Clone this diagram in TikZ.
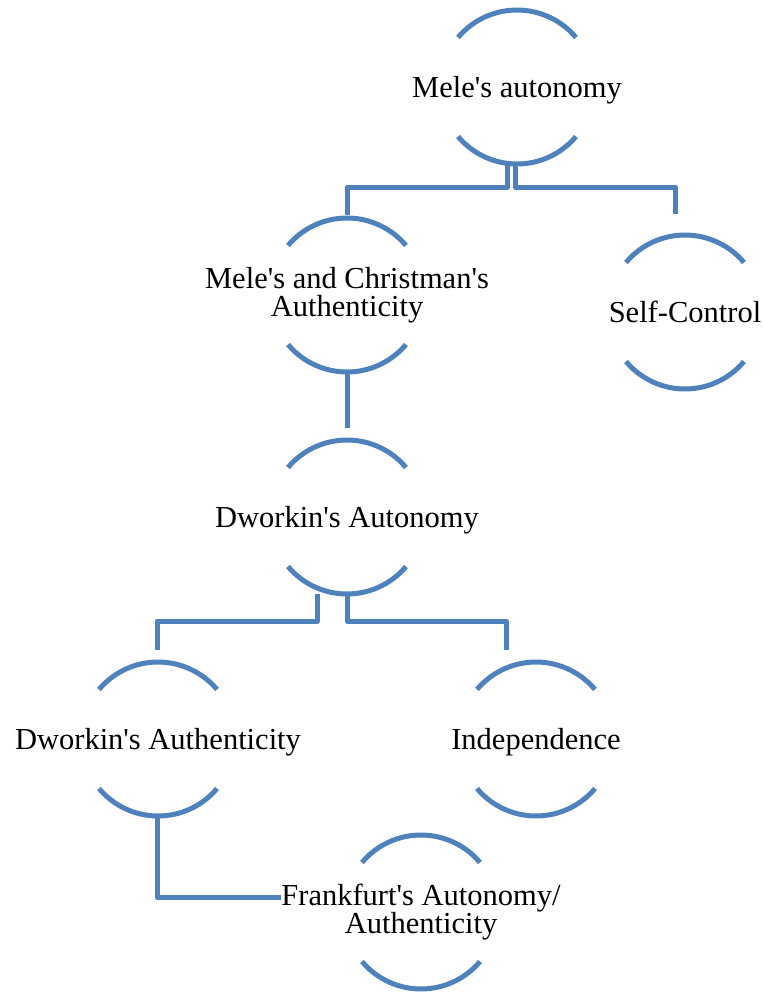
\documentclass[tikz,border=0pt]{standalone}
\usepackage{fontspec}
\setmainfont{Liberation Serif}[Ligatures=TeXOff]
\definecolor{ringblue}{RGB}{79,129,189}
\tikzset{
    ring/.style={ringblue, line width=5pt},
    link/.style={ringblue, line width=5pt, line join=round},
    concept/.style={inner sep=0pt, font=\fontsize{30.5}{28}\selectfont, text height=21pt, text depth=1pt},
    concepttwo/.style={inner sep=0pt, align=center, font=\fontsize{30.5}{28}\selectfont},
}

\begin{document}
\begin{tikzpicture}[x=1pt,y=1pt]
        \useasboundingbox (0,0) rectangle (763,-994);
        % узлы
        \node[concept] (meleAuto) at (517,-87) {Mele's autonomy};
        \node[concepttwo] (meleAuth) at (347,-295) {Mele's and Christman's\\Authenticity};
        \node[concept] (selfCtrl) at (685,-312) {Self-Control};
        \node[concept] (dworAuto) at (347,-517) {Dworkin's Autonomy};
        \node[concept] (dworAuth) at (158,-739) {Dworkin's Authenticity};
        \node[concept] (indep) at (536,-739) {Independence};
        \node[concepttwo] (frankAuto) at (421,-912) {Frankfurt's Autonomy/\\Authenticity};

        % дуги
        \draw[ring] ([shift={(40:77)}]meleAuto.center) arc[start angle=40, end angle=140, radius=77];
        \draw[ring] ([shift={(220:77)}]meleAuto.center) arc[start angle=220, end angle=320, radius=77];
        \draw[ring] ([shift={(40:77)}]meleAuth.center) arc[start angle=40, end angle=140, radius=77];
        \draw[ring] ([shift={(220:77)}]meleAuth.center) arc[start angle=220, end angle=320, radius=77];
        \draw[ring] ([shift={(40:77)}]selfCtrl.center) arc[start angle=40, end angle=140, radius=77];
        \draw[ring] ([shift={(220:77)}]selfCtrl.center) arc[start angle=220, end angle=320, radius=77];
        \draw[ring] ([shift={(40:77)}]dworAuto.center) arc[start angle=40, end angle=140, radius=77];
        \draw[ring] ([shift={(220:77)}]dworAuto.center) arc[start angle=220, end angle=320, radius=77];
        \draw[ring] ([shift={(40:77)}]dworAuth.center) arc[start angle=40, end angle=140, radius=77];
        \draw[ring] ([shift={(220:77)}]dworAuth.center) arc[start angle=220, end angle=320, radius=77];
        \draw[ring] ([shift={(40:77)}]indep.center) arc[start angle=40, end angle=140, radius=77];
        \draw[ring] ([shift={(220:77)}]indep.center) arc[start angle=220, end angle=320, radius=77];
        \draw[ring] ([shift={(40:77)}]frankAuto.center) arc[start angle=40, end angle=140, radius=77];
        \draw[ring] ([shift={(220:77)}]frankAuto.center) arc[start angle=220, end angle=320, radius=77];

        % связи
        \draw[link] ([xshift=-10pt,yshift=-77pt]meleAuto.center) -- ++(0,-23) -| ([yshift=80pt]meleAuth.center);
        \draw[link] ([xshift=-2pt,yshift=-77pt]meleAuto.center) -- ++(0,-23) -| ([xshift=-10pt,yshift=98pt]selfCtrl.center);
        \draw[link] ([yshift=-77pt]meleAuth.center) -- ([yshift=89pt]dworAuto.center);
        \draw[link] ([xshift=-30pt,yshift=-77pt]dworAuto.center) -- ++(0,-27) -| ([xshift=-1pt,yshift=89pt]dworAuth.center);
        \draw[link] ([yshift=-77pt]dworAuto.center) -- ++(0,-27) -| ([xshift=-30pt,yshift=89pt]indep.center);
        \draw[link] ([xshift=-1pt,yshift=-77pt]dworAuth.center) |- ([yshift=15pt]frankAuto.west);
    \end{tikzpicture}
\end{document}
